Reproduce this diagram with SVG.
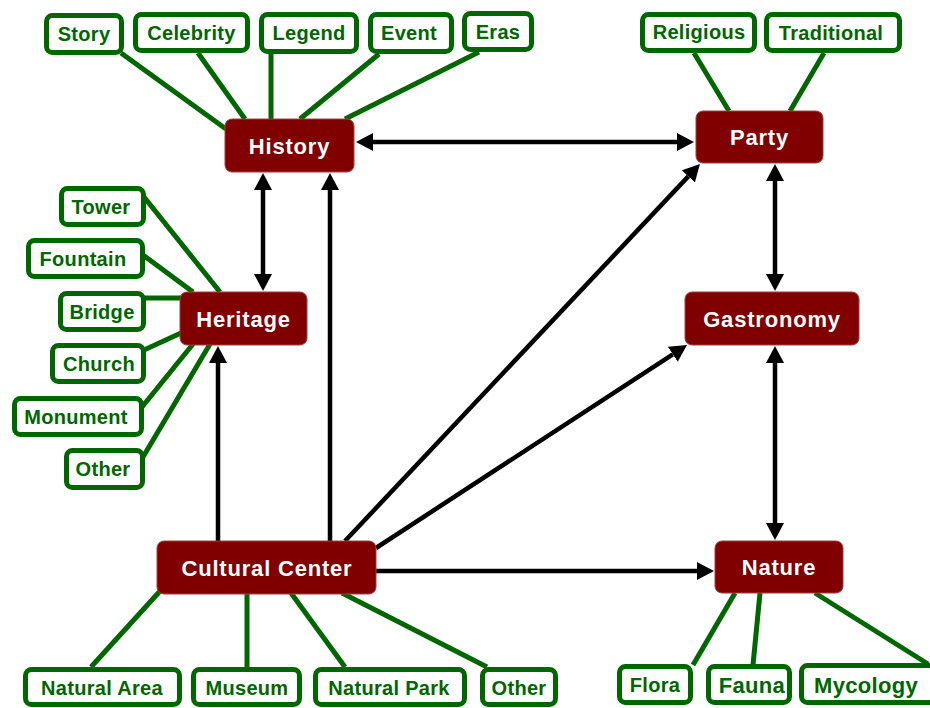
<svg xmlns="http://www.w3.org/2000/svg" width="930" height="708" viewBox="0 0 930 708">
<style>
.leaf rect{fill:#fff;stroke:#006600;stroke-width:5}
.leaf text{fill:#006600;font-family:"Liberation Sans",Arial,sans-serif;font-weight:bold;font-size:20px;text-anchor:middle;letter-spacing:0.3px}
.node rect{fill:#800000;stroke:#a04040;stroke-width:1}
.node text{fill:#fff;font-family:"Liberation Sans",Arial,sans-serif;font-weight:bold;font-size:22px;text-anchor:middle;letter-spacing:0.8px}
.g line{stroke:#006600;stroke-width:5}
.a line{stroke:#000;stroke-width:4.5;fill:none}
.big{font-size:22px!important}
</style>
<defs>
<marker id="ah" markerUnits="userSpaceOnUse" markerWidth="17" markerHeight="18" viewBox="0 0 17 18" refX="0" refY="9" orient="auto-start-reverse">
<path d="M0,0 L17,9 L0,18 z" fill="#000"/>
</marker>
</defs>
<g id="connectors">
<g class="g">
<line x1="121" y1="53" x2="226" y2="129"/>
<line x1="198" y1="53" x2="245" y2="119"/>
<line x1="271" y1="54" x2="271" y2="119"/>
<line x1="379" y1="54" x2="300" y2="119"/>
<line x1="479" y1="52" x2="345" y2="119"/>
<line x1="694" y1="53" x2="729" y2="111"/>
<line x1="824" y1="53" x2="790" y2="111"/>
<line x1="144" y1="197" x2="220" y2="292"/>
<line x1="143" y1="255" x2="193" y2="292"/>
<line x1="144" y1="298" x2="181" y2="298"/>
<line x1="144" y1="350" x2="181" y2="333"/>
<line x1="142" y1="407" x2="193" y2="344"/>
<line x1="143" y1="457" x2="210" y2="344"/>
<line x1="91" y1="667" x2="161" y2="590"/>
<line x1="247" y1="667" x2="247" y2="593"/>
<line x1="345" y1="667" x2="291" y2="593"/>
<line x1="487" y1="667" x2="342" y2="593"/>
<line x1="693" y1="665" x2="735" y2="593"/>
<line x1="753" y1="665" x2="760" y2="593"/>
<line x1="928" y1="664" x2="815" y2="593"/>
</g>
<g class="a">
<line x1="373" y1="142" x2="677" y2="142" marker-start="url(#ah)" marker-end="url(#ah)"/>
<line x1="263" y1="190" x2="263" y2="274" marker-start="url(#ah)" marker-end="url(#ah)"/>
<line x1="775" y1="181" x2="775" y2="274" marker-start="url(#ah)" marker-end="url(#ah)"/>
<line x1="775" y1="363" x2="775" y2="523" marker-start="url(#ah)" marker-end="url(#ah)"/>
<line x1="330" y1="541" x2="330" y2="190" marker-end="url(#ah)"/>
<line x1="218" y1="541" x2="218" y2="363" marker-end="url(#ah)"/>
<line x1="345" y1="541" x2="688.3" y2="176.4" marker-end="url(#ah)"/>
<line x1="376" y1="548" x2="672.8" y2="354.3" marker-end="url(#ah)"/>
<line x1="376" y1="571" x2="697" y2="571" marker-end="url(#ah)"/>
</g>
</g>
<g id="history" class="node"><rect x="225" y="119" width="129" height="53" rx="7"/><text x="289.5" y="153.5">History</text></g>
<g id="party" class="node"><rect x="696" y="111" width="127" height="52" rx="7"/><text x="759.5" y="145">Party</text></g>
<g id="heritage" class="node"><rect x="180" y="292" width="127" height="53" rx="7"/><text x="243.5" y="326.5">Heritage</text></g>
<g id="gastronomy" class="node"><rect x="685" y="292" width="174" height="53" rx="7"/><text x="772" y="326.5">Gastronomy</text></g>
<g id="cultural-center" class="node"><rect x="157" y="541" width="219" height="53" rx="7"/><text x="267" y="575.5">Cultural Center</text></g>
<g id="nature" class="node"><rect x="715" y="541" width="128" height="52" rx="7"/><text x="779" y="575">Nature</text></g>

<g id="story" class="leaf"><rect x="46.5" y="15.5" width="75" height="37" rx="6"/><text x="84" y="41">Story</text></g>
<g id="celebrity" class="leaf"><rect x="135.5" y="14.5" width="112" height="36" rx="6"/><text x="191.5" y="40">Celebrity</text></g>
<g id="legend" class="leaf"><rect x="261.5" y="14.5" width="95" height="37" rx="6"/><text x="309" y="40">Legend</text></g>
<g id="event" class="leaf"><rect x="370.5" y="14.5" width="81" height="37" rx="6"/><text x="409" y="40">Event</text></g>
<g id="eras" class="leaf"><rect x="464.5" y="13.5" width="67" height="36" rx="6"/><text x="498" y="39">Eras</text></g>
<g id="religious" class="leaf"><rect x="642.5" y="14.5" width="112" height="36" rx="6"/><text x="699" y="39">Religious</text></g>
<g id="traditional" class="leaf"><rect x="766.5" y="14.5" width="133" height="36" rx="6"/><text x="831" y="40">Traditional</text></g>
<g id="tower" class="leaf"><rect x="61.5" y="188.5" width="82" height="36" rx="6"/><text x="101" y="214">Tower</text></g>
<g id="fountain" class="leaf"><rect x="28.5" y="240.5" width="114" height="36" rx="6"/><text x="83" y="266">Fountain</text></g>
<g id="bridge" class="leaf"><rect x="60.5" y="293.5" width="83" height="36" rx="6"/><text x="102" y="319">Bridge</text></g>
<g id="church" class="leaf"><rect x="52.5" y="345.5" width="91" height="36" rx="6"/><text x="99" y="371">Church</text></g>
<g id="monument" class="leaf"><rect x="14.5" y="398.5" width="127" height="36" rx="6"/><text x="76" y="424">Monument</text></g>
<g id="other-heritage" class="leaf"><rect x="66.5" y="450.5" width="76" height="37" rx="6"/><text x="103" y="476">Other</text></g>
<g id="natural-area" class="leaf"><rect x="25.5" y="669.5" width="154" height="35" rx="6"/><text x="102" y="695">Natural Area</text></g>
<g id="museum" class="leaf"><rect x="193.5" y="669.5" width="106" height="35" rx="6"/><text x="247" y="695">Museum</text></g>
<g id="natural-park" class="leaf"><rect x="315.5" y="669.5" width="149" height="35" rx="6"/><text x="389" y="695">Natural Park</text></g>
<g id="other-center" class="leaf"><rect x="482.5" y="669.5" width="73" height="35" rx="6"/><text x="519" y="695">Other</text></g>
<g id="flora" class="leaf"><rect x="619.5" y="666.5" width="71" height="36" rx="6"/><text x="655" y="692">Flora</text></g>
<g id="fauna" class="leaf"><rect x="708.5" y="666.5" width="81" height="36" rx="6"/><text x="752" y="693" class="big">Fauna</text></g>
<g id="mycology" class="leaf"><rect x="801.5" y="665.5" width="136" height="37" rx="6"/><text x="866" y="693" class="big">Mycology</text></g>
</svg>
